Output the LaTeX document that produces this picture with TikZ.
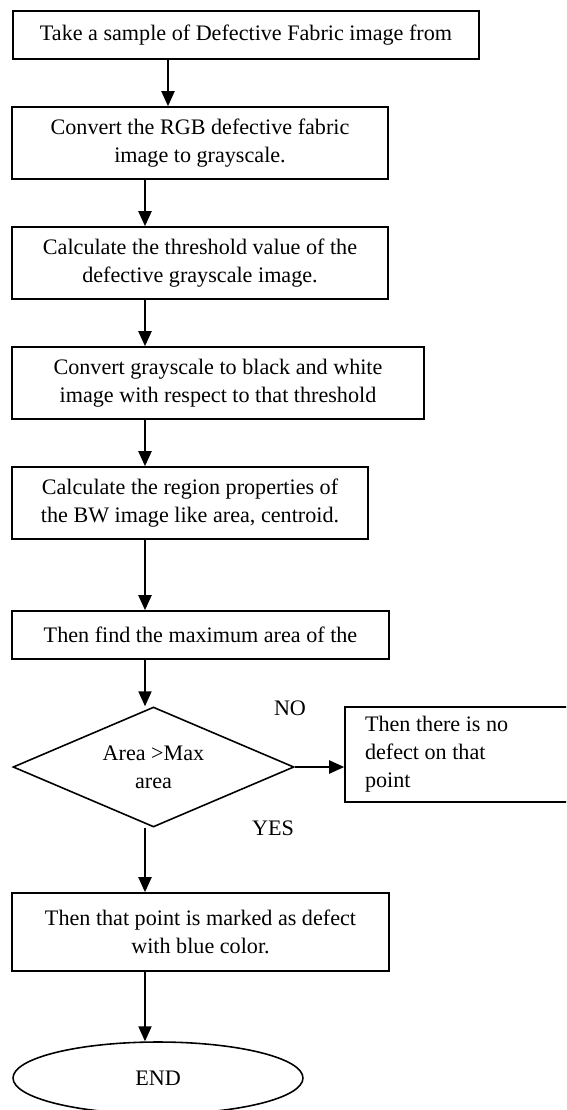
\documentclass[tikz,border=0pt]{standalone}
\usepackage{fontspec}
\setmainfont{Liberation Serif}
\usetikzlibrary{arrows.meta,shapes.geometric}

\begin{document}
\begin{tikzpicture}[x=0.02cm,y=-0.02cm,
    every node/.style={font=\fontsize{12.6}{16}\selectfont},
    stepbox/.style={draw,line width=1pt,align=center,inner sep=0pt},
    flow/.style={line width=0.85pt,-{Triangle[width=7.5pt,length=8.5pt]}}]

\useasboundingbox (0,0) rectangle (566,1110);
\clip (0,0) rectangle (566,1110);

% Processing steps
\node[stepbox,minimum width=9.32cm,minimum height=0.96cm] (sample) at (246,35) {Take a sample of Defective Fabric image from};
\node[stepbox,minimum width=7.52cm,minimum height=1.44cm] (gray) at (200,143) {Convert the RGB defective fabric\\image to grayscale.};
\node[stepbox,minimum width=7.52cm,minimum height=1.44cm] (thresh) at (200,263) {Calculate the threshold value of the\\defective grayscale image.};
\node[stepbox,minimum width=8.24cm,minimum height=1.44cm] (bw) at (218,383) {Convert grayscale to black and white\\image with respect to that threshold};
\node[stepbox,minimum width=7.12cm,minimum height=1.44cm] (props) at (190,503) {Calculate the region properties of\\the BW image like area, centroid.};
\node[stepbox,minimum width=7.54cm,minimum height=0.96cm] (maxarea) at (200.5,635) {Then find the maximum area of the};

% Decision
\node[draw,line width=0.9pt,diamond,aspect=2.34,inner sep=0pt,minimum width=5.62cm,minimum height=2.4cm,align=center] (check) at (153.5,767) {Area >Max\\area};
\node (no) at (290,708) {NO};
\node (yes) at (273,828) {YES};

% No defect
\node[stepbox,minimum width=4.46cm,minimum height=1.9cm,align=flush left,inner xsep=0.4cm,text width=3.66cm] (nodef) at (456.5,754.5) {Then there is no\\defect on that\\point};

% Defect found
\node[stepbox,minimum width=7.54cm,minimum height=1.56cm] (mark) at (200.5,932) {Then that point is marked as defect\\with blue color.};

% End
\node[draw,line width=0.9pt,ellipse,inner sep=0pt,minimum width=5.8cm,minimum height=1.44cm] (finish) at (158,1078) {END};

% Arrows
\coordinate (topline) at (168,0);
\coordinate (spine) at (145,0);
\draw[flow] (sample.south -| topline) -- (gray.north -| topline);
\foreach \a/\b in {gray/thresh,thresh/bw,bw/props,props/maxarea,maxarea/check,check/mark,mark/finish}
    \draw[flow] (\a.south -| spine) -- (\b.north -| spine);
\draw[flow] (check.east) -- (check.east -| nodef.west);

\end{tikzpicture}
\end{document}
